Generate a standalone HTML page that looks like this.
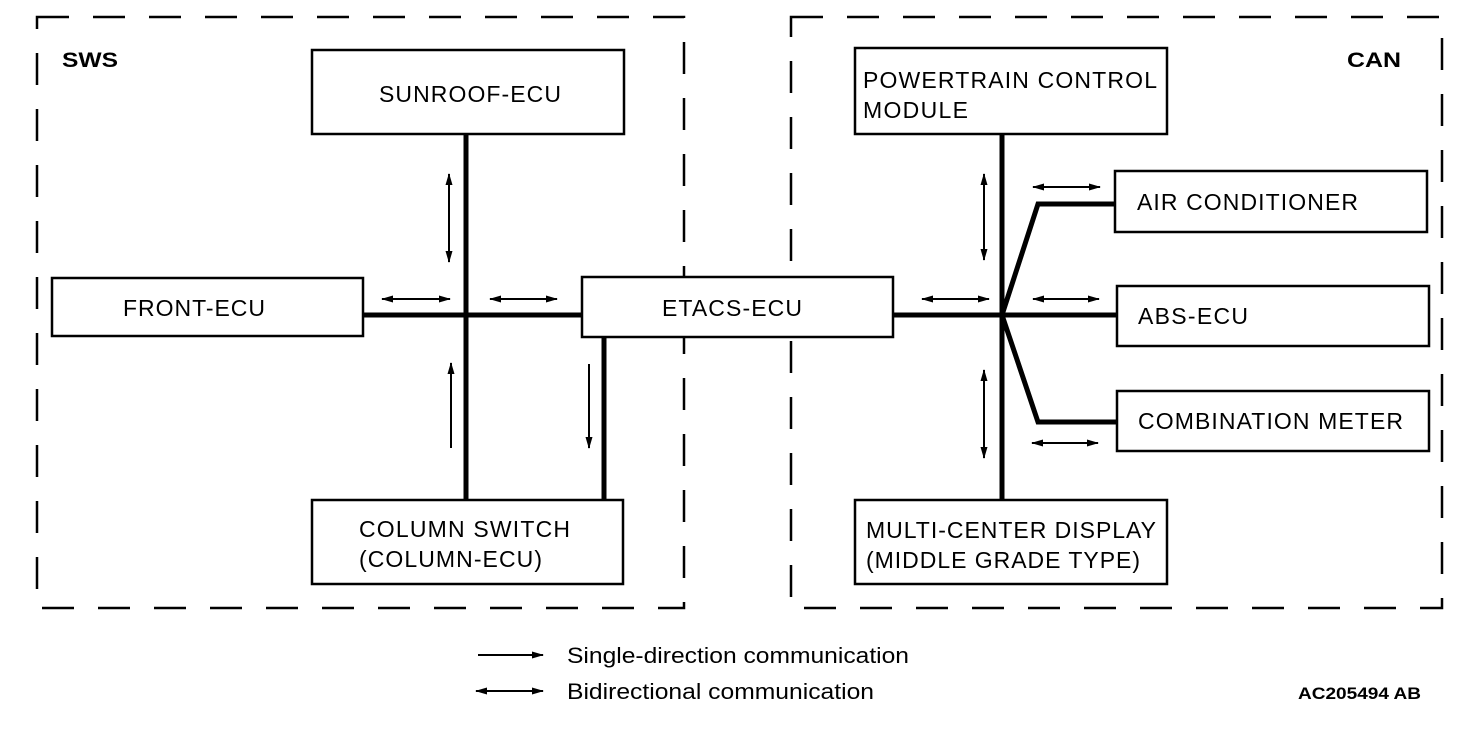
<!DOCTYPE html>
<html><head><meta charset="utf-8"><style>
html,body{margin:0;padding:0;background:#fff;}
svg{display:block;}
text{font-family:"Liberation Sans",Arial,sans-serif;fill:#000;}
</style></head><body>
<svg width="1472" height="732" viewBox="0 0 1472 732" xmlns="http://www.w3.org/2000/svg">
<defs>
<marker id="ah" markerWidth="12" markerHeight="9" refX="11" refY="4.5" orient="auto-start-reverse" markerUnits="userSpaceOnUse">
<path d="M0,1 L12,4.5 L0,8 Z" fill="#000"/>
</marker>
</defs>
<g fill="none" stroke="#000" stroke-width="2.5" stroke-dasharray="32,24">
<rect x="37" y="17" width="647" height="591"/>
<rect x="791" y="17" width="651" height="591"/>
</g>
<text x="62" y="67" font-size="21" font-weight="bold" textLength="56" lengthAdjust="spacingAndGlyphs">SWS</text>
<text x="1347" y="67" font-size="21" font-weight="bold" textLength="54" lengthAdjust="spacingAndGlyphs">CAN</text>

<g fill="none" stroke="#000" stroke-width="5">
<line x1="466" y1="134" x2="466" y2="500"/>
<line x1="363" y1="315" x2="582" y2="315"/>
<line x1="604" y1="337" x2="604" y2="500"/>
<line x1="1002" y1="134" x2="1002" y2="500"/>
<line x1="893" y1="315" x2="1117" y2="315"/>
<polyline points="1002,315 1038,204 1115,204"/>
<polyline points="1002,315 1038,422 1117,422"/>
</g>

<g fill="#fff" stroke="#000" stroke-width="2.5">
<rect x="312" y="50" width="312" height="84"/>
<rect x="52" y="278" width="311" height="58"/>
<rect x="582" y="277" width="311" height="60"/>
<rect x="312" y="500" width="311" height="84"/>
<rect x="855" y="48" width="312" height="86"/>
<rect x="1115" y="171" width="312" height="61"/>
<rect x="1117" y="286" width="312" height="60"/>
<rect x="1117" y="391" width="312" height="60"/>
<rect x="855" y="500" width="312" height="84"/>
</g>

<g font-size="23" lengthAdjust="spacingAndGlyphs">
<text x="379" y="102" textLength="182">SUNROOF-ECU</text>
<text x="123" y="316" textLength="142">FRONT-ECU</text>
<text x="662" y="316" textLength="140">ETACS-ECU</text>
<text x="359" y="537" textLength="211">COLUMN SWITCH</text>
<text x="359" y="567" textLength="183">(COLUMN-ECU)</text>
<text x="863" y="88" textLength="294">POWERTRAIN CONTROL</text>
<text x="863" y="118" textLength="105">MODULE</text>
<text x="1137" y="210" textLength="221">AIR CONDITIONER</text>
<text x="1138" y="324" textLength="110">ABS-ECU</text>
<text x="1138" y="429" textLength="265">COMBINATION METER</text>
<text x="866" y="538" textLength="290">MULTI-CENTER DISPLAY</text>
<text x="866" y="568" textLength="274">(MIDDLE GRADE TYPE)</text>
</g>

<g stroke="#000" stroke-width="2" fill="none">
<line x1="449" y1="174" x2="449" y2="262" marker-start="url(#ah)" marker-end="url(#ah)"/>
<line x1="382" y1="299" x2="450" y2="299" marker-start="url(#ah)" marker-end="url(#ah)"/>
<line x1="490" y1="299" x2="557" y2="299" marker-start="url(#ah)" marker-end="url(#ah)"/>
<line x1="451" y1="448" x2="451" y2="363" marker-end="url(#ah)"/>
<line x1="589" y1="364" x2="589" y2="448" marker-end="url(#ah)"/>
<line x1="984" y1="174" x2="984" y2="260" marker-start="url(#ah)" marker-end="url(#ah)"/>
<line x1="984" y1="370" x2="984" y2="458" marker-start="url(#ah)" marker-end="url(#ah)"/>
<line x1="922" y1="299" x2="989" y2="299" marker-start="url(#ah)" marker-end="url(#ah)"/>
<line x1="1033" y1="187" x2="1100" y2="187" marker-start="url(#ah)" marker-end="url(#ah)"/>
<line x1="1033" y1="299" x2="1099" y2="299" marker-start="url(#ah)" marker-end="url(#ah)"/>
<line x1="1032" y1="443" x2="1098" y2="443" marker-start="url(#ah)" marker-end="url(#ah)"/>
<line x1="478" y1="655" x2="543" y2="655" marker-end="url(#ah)"/>
<line x1="476" y1="691" x2="543" y2="691" marker-start="url(#ah)" marker-end="url(#ah)"/>
</g>
<text x="567" y="663" font-size="22" textLength="342" lengthAdjust="spacingAndGlyphs">Single-direction communication</text>
<text x="567" y="699" font-size="22" textLength="307" lengthAdjust="spacingAndGlyphs">Bidirectional communication</text>
<text x="1298" y="699" font-size="17" font-weight="bold" textLength="123" lengthAdjust="spacingAndGlyphs">AC205494 AB</text>
</svg>
</body></html>
